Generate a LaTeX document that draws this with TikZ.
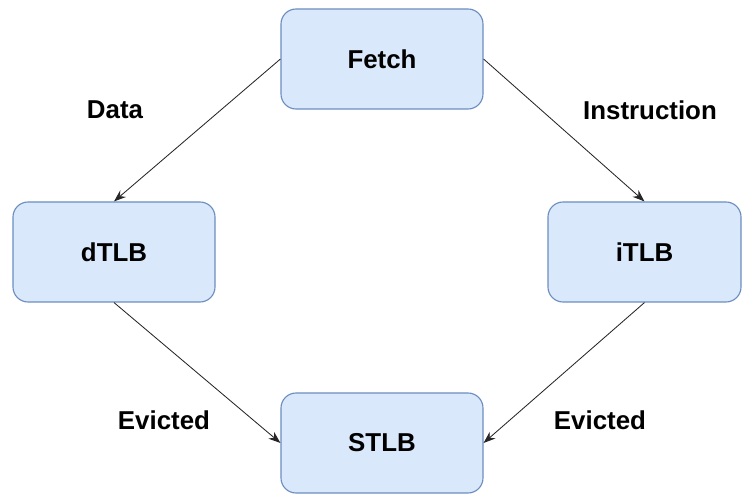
\documentclass[tikz,border=0pt]{standalone}
\usepackage{xcolor}
\usepackage{fontspec}
\setmainfont{Liberation Sans}
\usetikzlibrary{calc}
\usetikzlibrary{positioning}
\usetikzlibrary{arrows.meta}
\usepackage{tikz}

\definecolor{tlbfill}{HTML}{DAE8FC}
\definecolor{tlbline}{HTML}{6C8EBF}

\tikzset{
  tlb/.style={draw=tlbline, fill=tlbfill, line width=0.8pt, rounded corners=0.375cm,
    minimum height=2.5cm, font=\fontsize{18.4}{22}\selectfont\bfseries},
  lbl/.style={font=\fontsize{18.4}{22}\selectfont\bfseries},
  link/.style={-{Stealth[length=0.3cm,width=0.22cm]}, line width=0.6pt, black!85}
}

\begin{document}
\begin{tikzpicture}
  \useasboundingbox (0,0) rectangle (18.575,12.375);

  \node [tlb, minimum width=5.05cm] at (9.55,10.9) (fetch) {Fetch};
  \node [tlb, minimum width=5.05cm] at (2.85,6.075) (dtlb) {dTLB};
  \node [tlb, minimum width=4.825cm] at (16.1125,6.075) (itlb) {iTLB};
  \node [tlb, minimum width=5.05cm] at (9.55,1.3) (stlb) {STLB};

  \draw [link] (fetch.west) -- (dtlb.north);
  \draw [link] (fetch.east) -- (itlb.north);
  \draw [link] (dtlb.south) -- (stlb.west);
  \draw [link] (itlb.south) -- (stlb.east);

  \node [lbl] at (2.875,9.625) (data) {Data};
  \node [lbl] at (16.25,9.625) (instr) {Instruction};
  \node [lbl] at (4.1,1.875) (evl) {Evicted};
  \node [lbl] at (15.0,1.875) (evr) {Evicted};

\end{tikzpicture}
\end{document}
